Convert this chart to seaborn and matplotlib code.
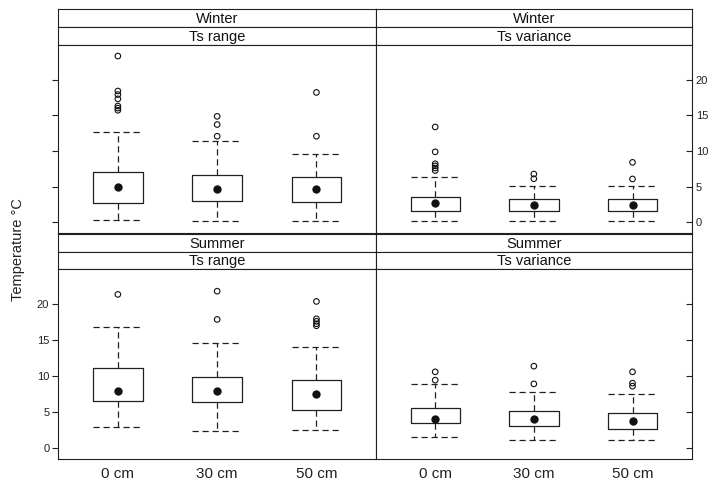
import matplotlib
matplotlib.use("Agg")
import matplotlib.pyplot as plt
import seaborn as sns
import pandas as pd

# ---------------- data ----------------
depths = ["0 cm", "30 cm", "50 cm"]
seasons = ["Winter", "Summer"]
metrics = ["Ts range", "Ts variance"]
yticks = [0, 5, 10, 15, 20]

winter_range_med = [4.95, 4.71, 4.71]
winter_range_q1 = [2.76, 3.04, 2.90]
winter_range_q3 = [7.04, 6.58, 6.39]
winter_range_lo = [0.30, 0.11, 0.11]
winter_range_hi = [12.67, 11.37, 9.55]
winter_range_out = [[23.3, 18.4, 17.9, 17.3, 16.3, 16.0, 15.7], [14.85, 13.7, 12.06], [18.2, 12.06]]

winter_var_med = [2.68, 2.48, 2.48]
winter_var_q1 = [1.60, 1.60, 1.60]
winter_var_q3 = [3.56, 3.24, 3.24]
winter_var_lo = [0.11, 0.11, 0.11]
winter_var_hi = [6.39, 5.09, 5.09]
winter_var_out = [[13.36, 9.87, 8.2, 7.9, 7.6, 7.25], [6.76, 6.1], [8.4, 6.07]]

summer_range_med = [7.86, 7.86, 7.40]
summer_range_q1 = [6.56, 6.37, 5.21]
summer_range_q3 = [11.12, 9.90, 9.40]
summer_range_lo = [2.88, 2.28, 2.42]
summer_range_hi = [16.84, 14.51, 14.05]
summer_range_out = [[21.35], [21.8, 17.86], [20.37, 17.95, 17.6, 17.26, 16.98]]

summer_var_med = [4.05, 4.05, 3.77]
summer_var_q1 = [3.44, 3.07, 2.56]
summer_var_q3 = [5.58, 5.07, 4.88]
summer_var_lo = [1.44, 1.07, 1.07]
summer_var_hi = [8.88, 7.72, 7.53]
summer_var_out = [[10.56, 9.4], [11.35, 8.88], [10.56, 8.98, 8.56]]

panels = {
    ("Winter", "Ts range"): (winter_range_med, winter_range_q1, winter_range_q3,
                             winter_range_lo, winter_range_hi, winter_range_out),
    ("Winter", "Ts variance"): (winter_var_med, winter_var_q1, winter_var_q3,
                                winter_var_lo, winter_var_hi, winter_var_out),
    ("Summer", "Ts range"): (summer_range_med, summer_range_q1, summer_range_q3,
                             summer_range_lo, summer_range_hi, summer_range_out),
    ("Summer", "Ts variance"): (summer_var_med, summer_var_q1, summer_var_q3,
                                summer_var_lo, summer_var_hi, summer_var_out),
}

# ---------------- style ----------------
sns.set_style("white")
plt.rcParams["font.family"] = ["Liberation Sans", "DejaVu Sans"]
plt.rcParams["axes.edgecolor"] = "#202020"
plt.rcParams["axes.linewidth"] = 0.8

W, H = 713, 483
fig = plt.figure(figsize=(W / 100, H / 100), dpi=100)

def fx(px):
    return px / W

def fy(py):
    return 1 - py / H

col_x = {"Ts range": (58.3, 376.0), "Ts variance": (376.0, 691.7)}
row_y = {"Winter": (9.3, 27.3, 45.0, 233.3), "Summer": (233.8, 251.6, 269.3, 458.7)}

dash = (0, (5, 3))
line_col = "#202020"

for season in seasons:
    s0, s1, s2, pbot = row_y[season]
    for metric in metrics:
        x0, x1 = col_x[metric]
        # strips
        for (top, bot, label) in [(s0, s1, season), (s1, s2, metric)]:
            sax = fig.add_axes([fx(x0), fy(bot), fx(x1 - x0), (bot - top) / H])
            sax.set_xticks([]); sax.set_yticks([])
            sax.set_facecolor("white")
            sax.text(0.5, 0.45, label, ha="center", va="center", fontsize=10.5,
                     transform=sax.transAxes, color="#111111")
        ax = fig.add_axes([fx(x0), fy(pbot), fx(x1 - x0), (pbot - s2) / H])
        med, q1, q3, lo, hi, outs = panels[(season, metric)]
        stats = [dict(med=med[i], q1=q1[i], q3=q3[i], whislo=lo[i], whishi=hi[i],
                      fliers=[], label=depths[i]) for i in range(len(depths))]
        positions = list(range(1, len(depths) + 1))
        ax.bxp(stats, positions=positions, widths=0.5, capwidths=0.5,
               showfliers=False, patch_artist=False,
               boxprops=dict(color=line_col, linewidth=0.9),
               whiskerprops=dict(color=line_col, linewidth=0.9, linestyle=dash),
               capprops=dict(color=line_col, linewidth=0.9, linestyle=dash),
               medianprops=dict(linewidth=0, alpha=0))
        # median dots
        dmed = pd.DataFrame({"pos": positions, "value": med})
        sns.scatterplot(data=dmed, x="pos", y="value", ax=ax, color="#111111",
                        s=36, linewidth=0, zorder=5, legend=False)
        # outliers
        ox, oy = [], []
        for i, vals in enumerate(outs):
            ox += [positions[i]] * len(vals)
            oy += list(vals)
        dout = pd.DataFrame({"pos": ox, "value": oy})
        sns.scatterplot(data=dout, x="pos", y="value", ax=ax, color="#111111",
                        facecolor="none", edgecolor="#111111", s=16,
                        linewidth=0.8, zorder=5, legend=False)
        ax.set_xlim(0.4, len(depths) + 0.6)
        ax.set_ylim(-1.55, 24.85)
        ax.set_xlabel(""); ax.set_ylabel("")
        ax.set_xticks(positions)
        ax.set_yticks(yticks)
        ax.set_yticklabels([str(v) for v in yticks])
        if season == "Summer":
            ax.set_xticklabels(depths)
            ax.tick_params(axis="x", length=0, labelsize=11, pad=6, labelcolor="#222222")
        else:
            ax.set_xticklabels([])
            ax.tick_params(axis="x", length=0)
        if metric == "Ts range":
            ax.tick_params(axis="y", left=True, right=False, direction="out",
                           length=4, width=0.8, color=line_col,
                           labelleft=(season == "Summer"), labelright=False,
                           labelsize=8, pad=2.5, labelcolor="#222222")
        else:
            ax.tick_params(axis="y", left=False, right=True, direction="in",
                           length=4, width=0.8, color=line_col,
                           labelleft=False, labelright=(season == "Winter"),
                           labelsize=8, pad=3, labelcolor="#222222")
        for sp in ax.spines.values():
            sp.set_visible(True)

fig.text(fx(18), fy(250), "Temperature \u00b0C", rotation=90, ha="center", va="center",
         fontsize=10.5, color="#222222")

fig.savefig("out.png", dpi=100)
